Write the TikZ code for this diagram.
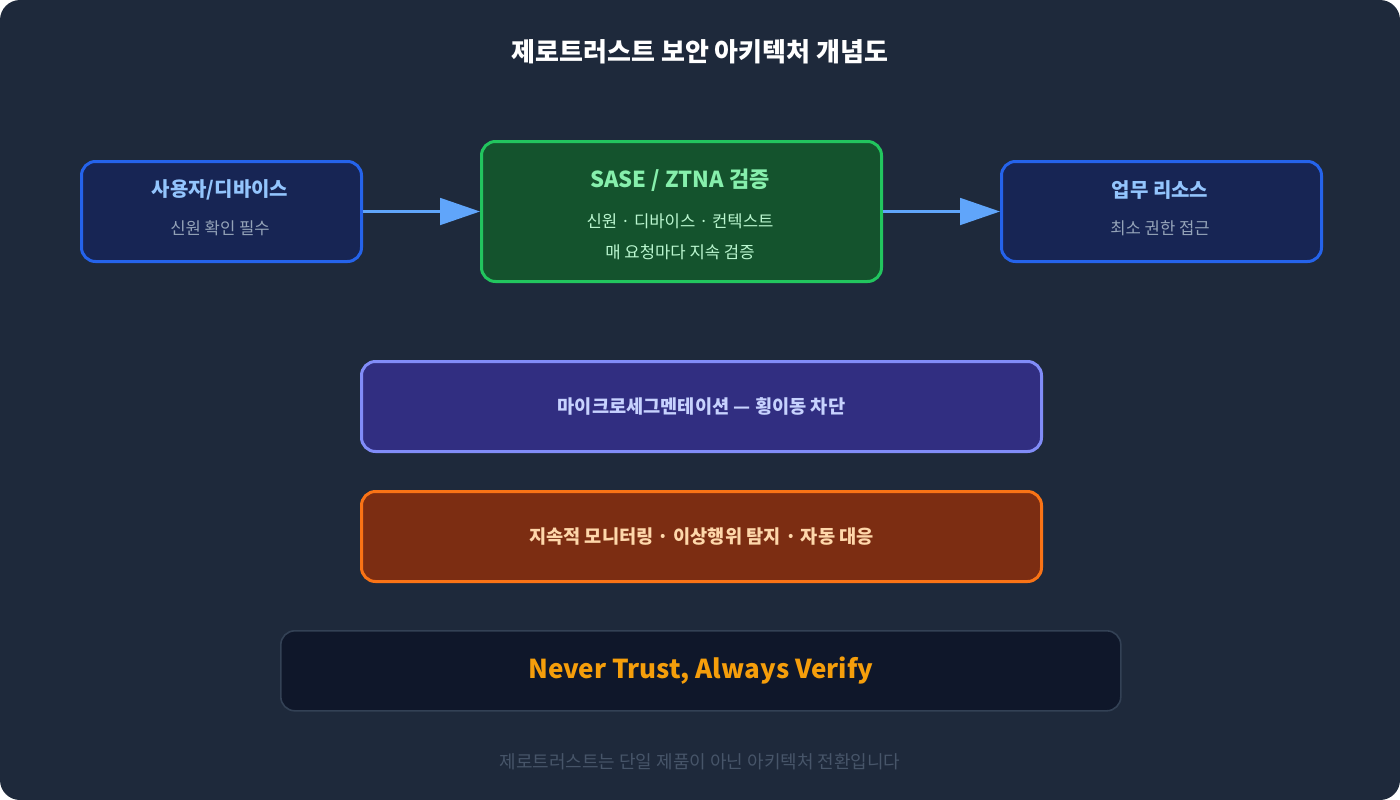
\documentclass[tikz,border=0pt]{standalone}
\usepackage{fontspec}
\setmainfont{Noto Sans CJK KR}
\usetikzlibrary{arrows.meta}
\definecolor{bg}{HTML}{1E293B}
\definecolor{bluefill}{HTML}{172554}
\definecolor{blueline}{HTML}{2563EB}
\definecolor{bluetext}{HTML}{93C5FD}
\definecolor{subgray}{HTML}{94A3B8}
\definecolor{greenfill}{HTML}{14532D}
\definecolor{greenline}{HTML}{22C55E}
\definecolor{greentext}{HTML}{86EFAC}
\definecolor{greensub}{HTML}{BBF7D0}
\definecolor{arrowc}{HTML}{60A5FA}
\definecolor{indfill}{HTML}{312E81}
\definecolor{indline}{HTML}{818CF8}
\definecolor{indtext}{HTML}{C7D2FE}
\definecolor{orfill}{HTML}{7C2D12}
\definecolor{orline}{HTML}{F97316}
\definecolor{ortext}{HTML}{FED7AA}
\definecolor{nvfill}{HTML}{0F172A}
\definecolor{nvline}{HTML}{334155}
\definecolor{amber}{HTML}{F59E0B}
\definecolor{foot}{HTML}{475569}
\tikzset{
 box/.style={rounded corners=10.5pt,line width=2.25pt,inner sep=0pt,anchor=north west},
 flowarrow/.style={draw=arrowc,line width=2.25pt,-{Triangle[length=30pt,width=20pt]}}
}
\begin{document}
\begin{tikzpicture}[x=0.75pt,y=-0.75pt]
\fill[white] (0,0) rectangle (1400,800);
\fill[bg,rounded corners=15pt] (0,0) rectangle (1400,800);
\useasboundingbox (0,0) rectangle (1400,800);
\node[text=white,font=\bfseries\fontsize{19.5pt}{23pt}\selectfont] (title) at (700,52) {제로트러스트 보안 아키텍처 개념도};
% boxes
\node[box,fill=bluefill,draw=blueline,minimum width=210pt,minimum height=75pt] (user) at (80,160) {};
\node[text=bluetext,font=\bfseries\fontsize{15pt}{18pt}\selectfont] (usert) at (220,190) {사용자/디바이스};
\node[text=subgray,font=\fontsize{12.5pt}{15pt}\selectfont] (users) at (220,228) {신원 확인 필수};
\node[box,fill=greenfill,draw=greenline,minimum width=300pt,minimum height=105pt] (sase) at (480,140) {};
\node[text=greentext,font=\bfseries\fontsize{16.5pt}{20pt}\selectfont] (saset) at (680,180) {SASE / ZTNA 검증};
\node[text=greensub,font=\fontsize{12.5pt}{15pt}\selectfont] (sases1) at (680,221) {신원 · 디바이스 · 컨텍스트};
\node[text=greensub,font=\fontsize{12.5pt}{15pt}\selectfont] (sases2) at (680,252) {매 요청마다 지속 검증};
\node[box,fill=bluefill,draw=blueline,minimum width=240pt,minimum height=75pt] (res) at (1000,160) {};
\node[text=bluetext,font=\bfseries\fontsize{15pt}{18pt}\selectfont] (rest) at (1160,190) {업무 리소스};
\node[text=subgray,font=\fontsize{12.5pt}{15pt}\selectfont] (ress) at (1160,228) {최소 권한 접근};
\draw[flowarrow] (user.east) -- (sase.west);
\draw[flowarrow] (sase.east) -- (res.west);
\node[box,fill=indfill,draw=indline,minimum width=510pt,minimum height=67.5pt] (micro) at (360,360) {};
\node[text=indtext,font=\bfseries\fontsize{14pt}{17pt}\selectfont] (microt) at (micro.center) {마이크로세그멘테이션 — 횡이동 차단};
\node[box,fill=orfill,draw=orline,minimum width=510pt,minimum height=67.5pt] (mon) at (360,490) {};
\node[text=ortext,font=\bfseries\fontsize{14pt}{17pt}\selectfont] (mont) at (mon.center) {지속적 모니터링 · 이상행위 탐지 · 자동 대응};
\node[box,fill=nvfill,draw=nvline,line width=1.2pt,minimum width=630pt,minimum height=60pt] (nv) at (280,630) {};
\node[text=amber,font=\bfseries\fontsize{19.5pt}{23pt}\selectfont] (nvt) at (nv.center) {Never Trust, Always Verify};
\node[text=foot,font=\fontsize{13.5pt}{16pt}\selectfont] (foot) at (700,762) {제로트러스트는 단일 제품이 아닌 아키텍처 전환입니다};
\end{tikzpicture}
\end{document}
